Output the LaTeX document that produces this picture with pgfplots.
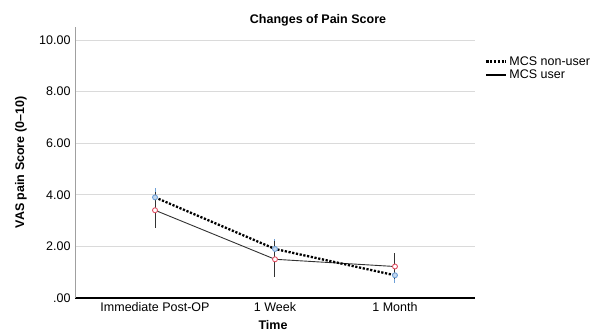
\documentclass[border=0pt]{standalone}
\usepackage{pgfplots}
\pgfplotsset{compat=1.18}
\usepackage{fontspec}
\setmainfont{Liberation Sans}
\definecolor{gridc}{RGB}{218,218,218}
\definecolor{yaxc}{RGB}{160,160,160}
\definecolor{bluem}{RGB}{110,160,215}
\definecolor{redm}{RGB}{225,80,100}
\definecolor{userc}{RGB}{50,50,50}
\newcommand{\fs}{\fontsize{12.5}{14}\selectfont}
\begin{document}
\begin{tikzpicture}
\begin{axis}[
  at={(0,0)}, anchor=south west,
  scale only axis, width=400pt, height=271pt,
  xmin=-0.667, xmax=2.667, ymin=0, ymax=10.5,
  axis x line*=bottom, axis y line*=left,
  x axis line style={black, line width=1.4pt, -},
  y axis line style={yaxc, line width=0.8pt, -},
  xtick={0,1,2}, xticklabels={Immediate Post-OP,1 Week,1 Month},
  ytick={0,2,4,6,8,10}, yticklabels={.00,2.00,4.00,6.00,8.00,10.00},
  major tick length=0pt,
  ymajorgrids, grid style={gridc, line width=0.7pt},
  tick label style={font=\fs},
  xticklabel style={yshift=-1pt},
  yticklabel style={xshift=-1pt},
  /pgf/number format/assume math mode=true,
  xlabel={Time}, ylabel={VAS pain Score (0–10)},
  xlabel style={font=\fs\bfseries, at={(axis description cs:0.495,-0.1)}, anchor=center},
  ylabel style={font=\fs\bfseries, at={(axis description cs:-0.135,0.5)}, anchor=center, rotate=0},
  legend style={at={(1.025,0.9)}, anchor=north west, draw=none, fill=none,
    font=\fs, row sep=-1pt, inner sep=0pt},
  legend cell align=left,
  legend image code/.code={\draw[#1] (0pt,0pt) -- (20pt,0pt);},
  clip=false,
]
% non-user error bars (blue)
\addplot[forget plot, draw=none, mark=none,
  error bars/.cd, y dir=both, y explicit, error mark=none,
  error bar style={bluem, line width=1pt, solid}]
  coordinates {(0,3.9) += (0,0.37) -= (0,0.32)
               (1,1.9) += (0,0.37) -= (0,0.35)
               (2,0.88) += (0,0.25) -= (0,0.28)};
% user error bars (dark)
\addplot[forget plot, draw=none, mark=none,
  error bars/.cd, y dir=both, y explicit, error mark=none,
  error bar style={userc, line width=1pt, solid}]
  coordinates {(0,3.4) += (0,0.7) -= (0,0.7)
               (1,1.5) += (0,0.7) -= (0,0.7)
               (2,1.22) += (0,0.53) -= (0,0.5)};
% user line
\addplot[forget plot, userc, line width=0.9pt, mark=*, mark size=2.5pt,
  mark options={solid, draw=redm, fill=white, line width=0.9pt}]
  coordinates {(0,3.4) (1,1.5) (2,1.22)};
% non-user line
\addplot[forget plot, black, line width=2.3pt, dash pattern=on 2.2pt off 1.6pt,
  mark=*, mark size=2.5pt,
  mark options={solid, draw=bluem, fill=bluem!40, line width=0.9pt}]
  coordinates {(0,3.9) (1,1.9) (2,0.88)};
\addlegendimage{black, line width=2.3pt, dash pattern=on 2.2pt off 1.6pt}
\addlegendentry{MCS non-user}
\addlegendimage{black, line width=2pt}
\addlegendentry{MCS user}
\end{axis}
\node[font=\fs\bfseries] at (243pt,278pt) {Changes of Pain Score};
\pgfresetboundingbox
\useasboundingbox (-75pt,-37pt) rectangle (536pt,298pt);
\end{tikzpicture}
\end{document}
